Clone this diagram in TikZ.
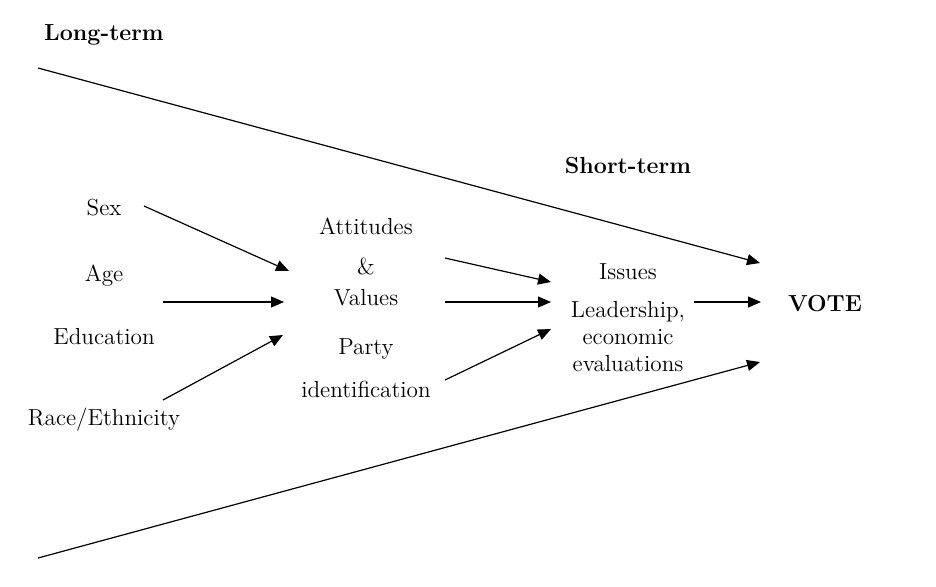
\documentclass[tikz,border=0pt]{standalone}
\usetikzlibrary{arrows.meta}
\begin{document}
\begin{tikzpicture}[x=0.5pt,y=-0.5pt,
  lbl/.style={font=\fontsize{11.6}{13.5}\selectfont, inner sep=0pt, align=center},
  bold/.style={lbl, font=\fontsize{11.6}{13.5}\selectfont\bfseries},
  arr/.style={line width=0.6pt, -{Triangle[length=6.5pt,width=5.5pt]}},
  ln/.style={line width=0.6pt}]
\useasboundingbox (0,0) rectangle (936,586);
% labels
\node[bold] (long) at (104,35) {Long-term};
\node[bold] (short) at (628,166) {Short-term};
\node[lbl] (sex) at (104,208) {Sex};
\node[lbl] (age) at (104,276) {Age};
\node[lbl] (edu) at (104,337) {Education};
\node[lbl] (race) at (104,420) {Race/Ethnicity};
\node[lbl] (att) at (366,226) {Attitudes};
\node[lbl] (amp) at (366,266) {\&};
\node[lbl] (val) at (366,298) {Values};
\node[lbl] (party) at (366,349) {Party};
\node[lbl] (ident) at (366,389) {identification};
\node[lbl] (iss) at (628,272) {Issues};
\node[lbl] (lead) at (628,337) {Leadership,\\ economic\\ evaluations};
\node[bold] (vote) at (825,304) {VOTE};
% coordinates
\coordinate (lt0) at (38,68);
\coordinate (lt1) at (760,263);
\coordinate (lb0) at (38,558);
\coordinate (lb1) at (760,362);
\coordinate (s0) at (144,206);
\coordinate (s1) at (289,271);
\coordinate (a0) at (163,302);
\coordinate (a1) at (284,302);
\coordinate (r0) at (163,400);
\coordinate (r1) at (283,335);
\coordinate (m10) at (445,258);
\coordinate (m11) at (551,282);
\coordinate (m20) at (445,302);
\coordinate (m21) at (551,302);
\coordinate (m30) at (445,380);
\coordinate (m31) at (551,329);
\coordinate (v0) at (694,302);
\coordinate (v1) at (761,302);
% connectors
\draw[arr] (lt0) -- (lt1);
\draw[arr] (lb0) -- (lb1);
\draw[arr] (s0) -- (s1);
\draw[arr] (a0) -- (a1);
\draw[arr] (r0) -- (r1);
\draw[arr] (m10) -- (m11);
\draw[arr] (m20) -- (m21);
\draw[arr] (m30) -- (m31);
\draw[arr] (v0) -- (v1);
\end{tikzpicture}
\end{document}
